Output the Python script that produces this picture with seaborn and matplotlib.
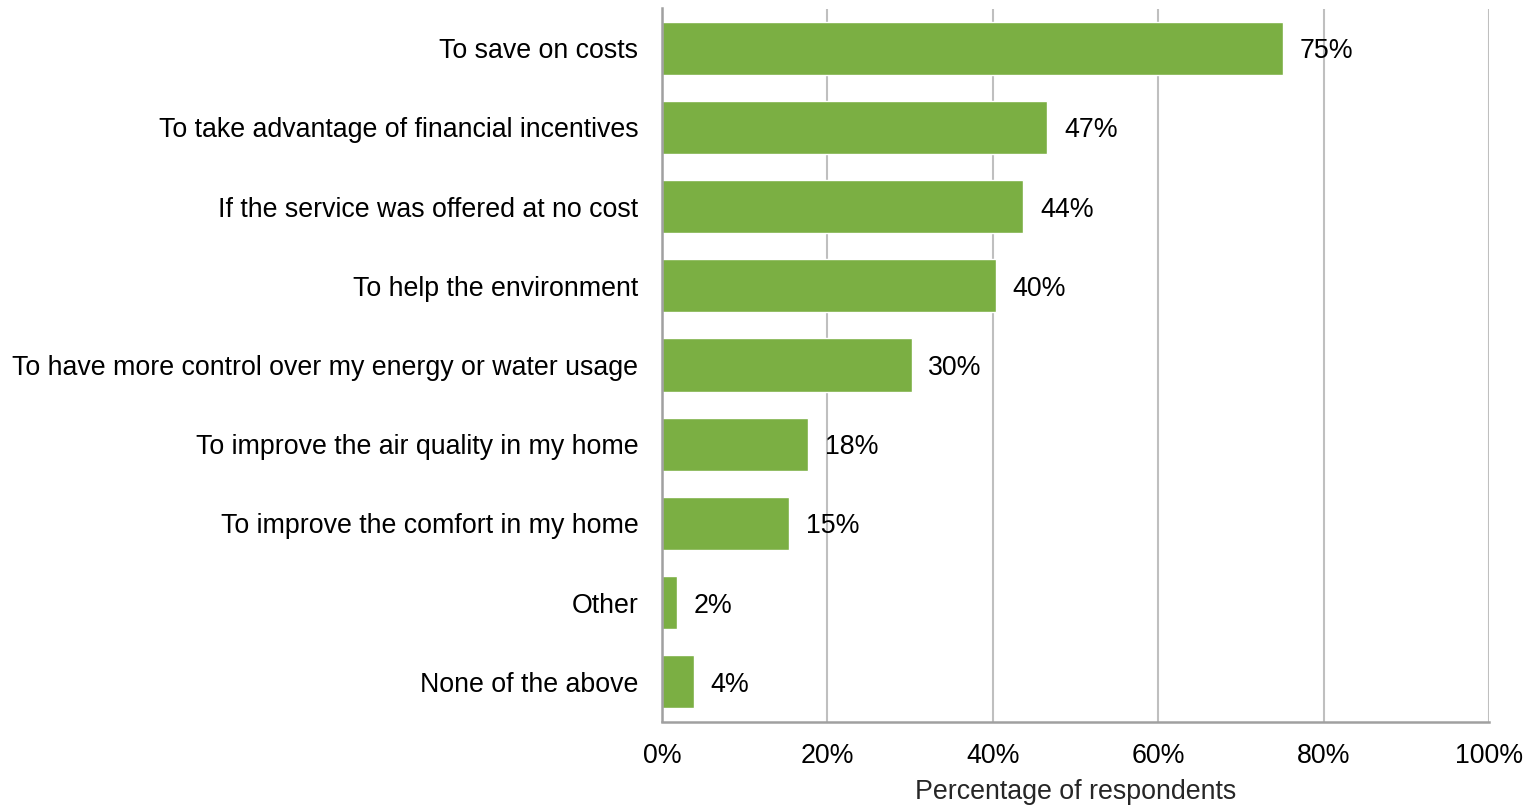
import matplotlib
matplotlib.use("Agg")
import matplotlib.pyplot as plt
import seaborn as sns
import pandas as pd
from matplotlib.ticker import FuncFormatter

reasons = [
    "To save on costs",
    "To take advantage of financial incentives",
    "If the service was offered at no cost",
    "To help the environment",
    "To have more control over my energy or water usage",
    "To improve the air quality in my home",
    "To improve the comfort in my home",
    "Other",
    "None of the above",
]
shares = [75.1, 46.6, 43.7, 40.4, 30.2, 17.7, 15.4, 1.8, 3.9]
x_ticks = [0, 20, 40, 60, 80, 100]

df = pd.DataFrame({"reason": reasons, "share": shares})

sns.set_theme(style="white")
plt.rcParams["font.family"] = ["Liberation Sans", "DejaVu Sans"]

FS = 19.3

fig = plt.figure(figsize=(15.35, 8.05), dpi=100)
ax = fig.add_axes([662 / 1535, 1 - 721.5 / 805, (1489 - 662) / 1535, (721.5 - 8.5) / 805])

sns.barplot(data=df, x="share", y="reason", orient="h", color="#7BAF43",
            saturation=1, width=0.67, ax=ax, zorder=3)

ax.set_xlim(0, 100)
ax.set_xticks(x_ticks)
ax.xaxis.set_major_formatter(FuncFormatter(lambda v, _: f"{v:.0f}%"))
ax.grid(axis="x", color="#BFBFBF", linewidth=1.5, zorder=0)
ax.grid(axis="y", visible=False)

for s in ["top", "right"]:
    ax.spines[s].set_visible(False)
for s in ["left", "bottom"]:
    ax.spines[s].set_color("#A0A0A0")
    ax.spines[s].set_linewidth(1.8)
    ax.spines[s].set_zorder(4)

ax.tick_params(axis="both", length=0, labelsize=FS, colors="black")
ax.tick_params(axis="y", pad=17)
ax.tick_params(axis="x", pad=15.5)
ax.set_ylabel("")
ax.set_xlabel("Percentage of respondents", fontsize=FS, labelpad=7)

for i, v in enumerate(shares):
    ax.text(v + 2.0, i, f"{v:.0f}%", va="center_baseline", ha="left",
            fontsize=FS, color="black", zorder=5)

fig.savefig("out.png", dpi=100)
